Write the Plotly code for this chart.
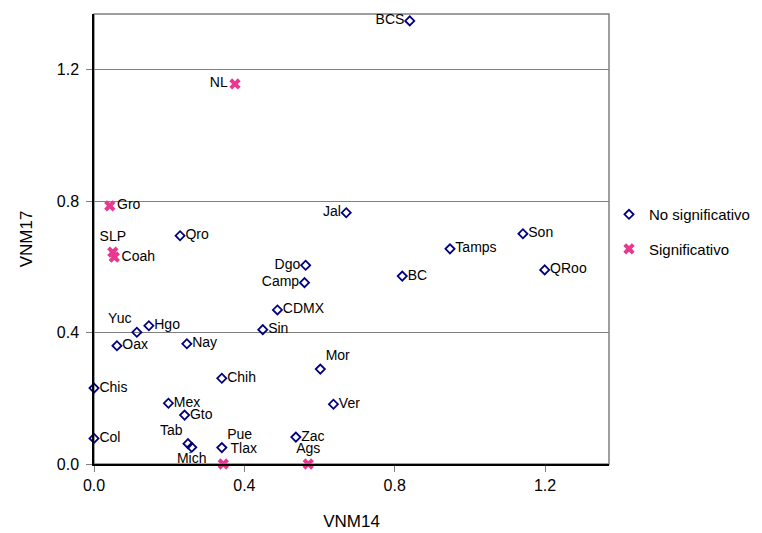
import plotly.graph_objects as go

# No significativo
ns_labels = ["BCS", "Jal", "Qro", "Dgo", "Camp", "CDMX", "Sin", "Yuc", "Hgo", "Oax", "Nay",
             "Mor", "Chih", "Chis", "Mex", "Ver", "Gto", "Col", "Zac", "Tab", "Mich", "Pue",
             "Son", "Tamps", "BC", "QRoo"]
ns_x = [0.840, 0.671, 0.229, 0.563, 0.560, 0.488, 0.449, 0.114, 0.146, 0.061, 0.247,
        0.602, 0.340, 0.000, 0.198, 0.637, 0.241, 0.000, 0.537, 0.250, 0.260, 0.340,
        1.141, 0.947, 0.820, 1.199]
ns_y = [1.349, 0.765, 0.695, 0.605, 0.552, 0.469, 0.409, 0.401, 0.421, 0.360, 0.366,
        0.289, 0.261, 0.231, 0.185, 0.182, 0.149, 0.078, 0.082, 0.062, 0.051, 0.050,
        0.701, 0.655, 0.572, 0.591]
ns_pos = ["middle left", "middle left", "middle right", "middle left", "middle left",
          "middle right", "middle right", "top left", "middle right", "middle right",
          "middle right", "top right", "middle right", "middle right", "middle right",
          "middle right", "middle right", "middle right", "middle right", "top left",
          "bottom center", "top right", "middle right", "middle right", "middle right",
          "middle right"]

# Significativo
s_labels = ["NL", "Gro", "SLP", "Coah", "Tlax", "Ags"]
s_x = [0.375, 0.042, 0.050, 0.054, 0.344, 0.570]
s_y = [1.157, 0.786, 0.645, 0.630, 0.000, 0.000]
s_pos = ["middle left", "middle right", "top center", "middle right", "top right", "top center"]

FONT = "Liberation Sans, Arial, sans-serif"

fig = go.Figure()
fig.add_trace(go.Scatter(
    x=ns_x, y=ns_y, text=ns_labels, textposition=ns_pos,
    mode="markers+text", name="No significativo", legendgroup="a",
    marker=dict(symbol="diamond-open", size=7, color="#000080", line=dict(width=1.8, color="#000080")),
    textfont=dict(family=FONT, size=14, color="#000000"),
    cliponaxis=False,
))
fig.add_trace(go.Scatter(
    x=s_x, y=s_y, text=s_labels, textposition=s_pos,
    mode="markers+text", name="Significativo", legendgroup="b",
    marker=dict(symbol="x", size=10, color="#E8388F", line=dict(width=0)),
    textfont=dict(family=FONT, size=14, color="#000000"),
    cliponaxis=False,
))

fig.update_layout(
    width=762, height=533,
    margin=dict(l=86, r=161, t=6, b=77),
    paper_bgcolor="white", plot_bgcolor="white",
    font=dict(family=FONT, size=16, color="#000000"),
    legend=dict(x=1.0, y=0.591, xanchor="left", yanchor="top",
                font=dict(family=FONT, size=15, color="#000000"),
                tracegroupgap=12, itemwidth=30, bgcolor="rgba(0,0,0,0)"),
    shapes=[dict(type="rect", xref="paper", yref="paper", x0=0, y0=0, x1=1, y1=1,
                 line=dict(color="#808080", width=1.5), layer="below")],
)
fig.update_xaxes(
    range=[0, 1.37], tick0=0, dtick=0.4, tickformat=".1f", automargin=False,
    showgrid=False, zeroline=False,
    showline=True, linecolor="#000000", linewidth=1.5,
    ticks="outside", ticklen=6, tickcolor="#808080", tickwidth=1,
    title=dict(text="VNM14", font=dict(family=FONT, size=17), standoff=22),
    tickfont=dict(family=FONT, size=16),
)
fig.update_yaxes(
    range=[0, 1.37], tick0=0, dtick=0.4, tickformat=".1f", automargin=False,
    showgrid=True, gridcolor="#808080", gridwidth=1, zeroline=False,
    showline=True, linecolor="#000000", linewidth=1.5,
    ticks="outside", ticklen=6, tickcolor="#808080", tickwidth=1,
    ticklabelstandoff=4,
    title=dict(text="VNM17", font=dict(family=FONT, size=17), standoff=20),
    tickfont=dict(family=FONT, size=16),
)

fig.write_html("out.html")
